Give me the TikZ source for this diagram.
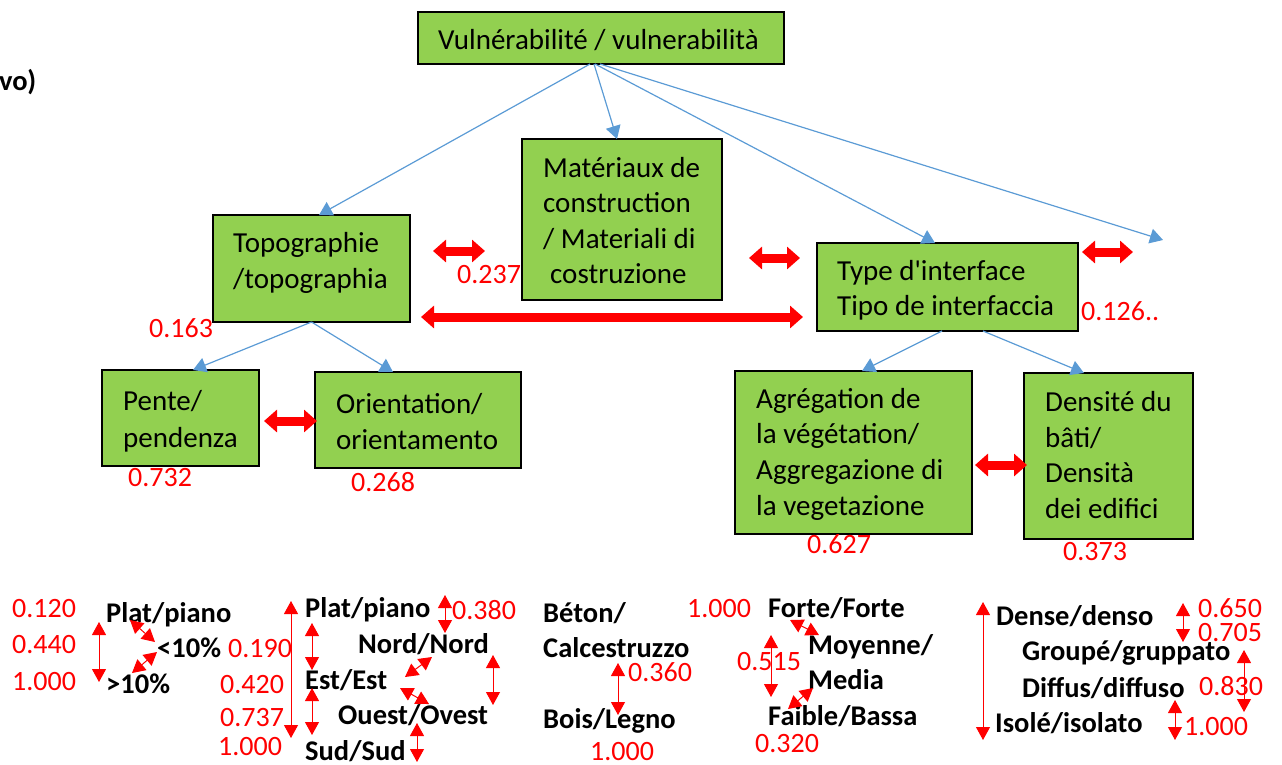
\documentclass[tikz,border=0pt]{standalone}
\usepackage{fontspec}
\setmainfont{Carlito}
\usetikzlibrary{arrows.meta}
\definecolor{boxgreen}{HTML}{92D050}
\definecolor{linkblue}{HTML}{5B9BD5}
\definecolor{numred}{HTML}{FF0000}
\begin{document}
\begin{tikzpicture}[x=1pt,y=-1pt,
  box/.style={draw=black, line width=1.3pt, fill=boxgreen, inner sep=0pt, outer sep=0pt},
  bt/.style={anchor=base west, inner sep=0pt, font=\fontsize{29}{35}\selectfont},
  num/.style={anchor=base west, inner sep=0pt, text=numred, font=\fontsize{28}{34}\selectfont},
  lab/.style={anchor=base west, inner sep=0pt, font=\bfseries\fontsize{28.5}{34}\selectfont},
  link/.style={draw=linkblue, line width=1.2pt, -{Triangle[length=13pt,width=15pt]}},
  bigdbl/.style={draw=numred, line width=9pt, {Triangle[length=13pt,width=22pt]}-{Triangle[length=13pt,width=22pt]}},
  thindbl/.style={draw=numred, line width=1pt, {Triangle[length=13pt,width=14pt]}-{Triangle[length=13pt,width=14pt]}},
  diagdbl/.style={draw=numred, line width=1pt, {Triangle[length=13pt,width=14pt]}-{Triangle[length=13pt,width=14pt]}},
]
\useasboundingbox (0,0) rectangle (1282,764);

% ---------- boxes ----------
\node[box, minimum width=366, minimum height=52] (vul) at (601,38) {};
\node[box, minimum width=200, minimum height=161] (mat) at (622,219.5) {};
\node[box, minimum width=197, minimum height=107] (topo) at (311.5,268.5) {};
\node[box, minimum width=261, minimum height=88] (type) at (947.5,287) {};
\node[box, minimum width=157, minimum height=96] (pente) at (180.5,418) {};
\node[box, minimum width=206, minimum height=96] (orient) at (418,420) {};
\node[box, minimum width=237, minimum height=163] (agr) at (853.5,452.5) {};
\node[box, minimum width=169, minimum height=166] (dens) at (1108.5,456) {};

% ---------- box texts ----------
\node[bt] (tvul) at (438,49) {Vulnérabilité / vulnerabilità};
\node[bt] (tmat1) at (543,177) {Matériaux de};
\node[bt] (tmat2) at (543,212) {construction};
\node[bt] (tmat3) at (543,248) {/ Materiali di};
\node[bt] (tmat4) at (550,283) {costruzione};
\node[bt] (ttopo1) at (233,252) {Topographie};
\node[bt] (ttopo2) at (233,288) {/topographia};
\node[bt] (ttype1) at (837,280) {Type d\textquotesingle interface};
\node[bt] (ttype2) at (837,315) {Tipo de interfaccia};
\node[bt] (tpente1) at (123,410) {Pente/};
\node[bt] (tpente2) at (123,447) {pendenza};
\node[bt] (tor1) at (336,413) {Orientation/};
\node[bt] (tor2) at (336,449) {orientamento};
\node[bt] (tagr1) at (756,408) {Agrégation de};
\node[bt] (tagr2) at (756,443) {la végétation/};
\node[bt] (tagr3) at (756,479) {Aggregazione di};
\node[bt] (tagr4) at (756,515) {la vegetazione};
\node[bt] (tdens1) at (1045,411) {Densité du};
\node[bt] (tdens2) at (1045,447) {bâti/};
\node[bt] (tdens3) at (1045,482) {Densità};
\node[bt] (tdens4) at (1045,518) {dei edifici};

\node[lab] (vo) at (-1,90) {vo)};

% ---------- blue links ----------
\coordinate (freeend) at (1163,240);
\draw[link] ([xshift=-11pt]vul.south) -- ([xshift=7.5pt]topo.north);
\draw[link] ([xshift=-7pt]vul.south) -- ([xshift=-5pt]mat.north);
\draw[link] ([xshift=-6pt]vul.south) -- ([xshift=-12.5pt]type.north);
\draw[link] ([xshift=-1pt]vul.south) -- (freeend);
\draw[link] (topo.south) -- ([xshift=12.5pt]pente.north);
\draw[link] (topo.south) -- ([xshift=-25pt]orient.north);
\draw[link] ([xshift=-5.5pt]type.south) -- ([xshift=8.5pt]agr.north);
\draw[link] ([xshift=35.5pt]type.south) -- ([xshift=-24.5pt]dens.north);

% ---------- red weight numbers ----------
\node[num] (w237) at (457,283) {0.237};
\node[num] (w163) at (149,337) {0.163};
\node[num] (w732) at (128,486) {0.732};
\node[num] (w268) at (351,491) {0.268};
\node[num] (w126) at (1081,320) {0.126..};
\node[num] (w627) at (807,553) {0.627};
\node[num] (w373) at (1063,560) {0.373};

% ---------- big red double arrows ----------
\coordinate (r1a) at (433,251); \coordinate (r1b) at (485,251);
\coordinate (r2a) at (421,317); \coordinate (r2b) at (803,317);
\coordinate (r3a) at (749,258); \coordinate (r3b) at (800,258);
\coordinate (r4a) at (1082,252); \coordinate (r4b) at (1133,252);
\coordinate (r5a) at (264,421); \coordinate (r5b) at (317,421);
\coordinate (r6a) at (975,465); \coordinate (r6b) at (1027,465);
\draw[bigdbl] (r1a) -- (r1b);
\draw[bigdbl] (r2a) -- (r2b);
\draw[bigdbl] (r3a) -- (r3b);
\draw[bigdbl] (r4a) -- (r4b);
\draw[bigdbl] (r5a) -- (r5b);
\draw[bigdbl] (r6a) -- (r6b);

% ---------- bottom: slope ----------
\node[num] (s1) at (12,617) {0.120};
\node[num] (s2) at (12,653) {0.440};
\node[num] (s3) at (12,690) {1.000};
\node[lab] (sl1) at (106,622) {Plat/piano};
\node[lab] (sl2) at (157,657) {<10\%};
\node[lab] (sl3) at (106,693) {>10\%};
\coordinate (sa1) at (99,622); \coordinate (sa2) at (99,682);
\coordinate (sb1) at (130,620); \coordinate (sb2) at (155,642);
\coordinate (sc1) at (157,652); \coordinate (sc2) at (132,673);
\draw[thindbl] (sa1) -- (sa2);
\draw[diagdbl] (sb1) -- (sb2);
\draw[diagdbl] (sc1) -- (sc2);

% ---------- bottom: orientation ----------
\node[num] (o1) at (228,657) {0.190};
\node[num] (o2) at (220,693) {0.420};
\node[num] (o3) at (220,726) {0.737};
\node[num] (o4) at (218,755) {1.000};
\node[num] (o5) at (452,619) {0.380};
\node[lab] (ol1) at (305,617) {Plat/piano};
\node[lab] (ol2) at (358,653) {Nord/Nord};
\node[lab] (ol3) at (305,689) {Est/Est};
\node[lab] (ol4) at (338,724) {Ouest/Ovest};
\node[lab] (ol5) at (305,760) {Sud/Sud};
\coordinate (oa1) at (291,601); \coordinate (oa2) at (291,738);
\coordinate (ob1) at (312,623); \coordinate (ob2) at (312,670);
\coordinate (oc1) at (312,688); \coordinate (oc2) at (312,735);
\coordinate (od1) at (445,595); \coordinate (od2) at (445,633);
\coordinate (oe1) at (432,657); \coordinate (oe2) at (405,677);
\coordinate (of1) at (400,688); \coordinate (of2) at (429,704);
\coordinate (og1) at (493,655); \coordinate (og2) at (493,705);
\coordinate (oh1) at (417,723); \coordinate (oh2) at (417,762);
\draw[thindbl] (oa1) -- (oa2);
\draw[thindbl] (ob1) -- (ob2);
\draw[thindbl] (oc1) -- (oc2);
\draw[thindbl] (od1) -- (od2);
\draw[diagdbl] (oe1) -- (oe2);
\draw[diagdbl] (of1) -- (of2);
\draw[thindbl] (og1) -- (og2);
\draw[thindbl] (oh1) -- (oh2);

% ---------- bottom: materials ----------
\node[lab] (ml1) at (543,622) {Béton/};
\node[lab] (ml2) at (543,657) {Calcestruzzo};
\node[lab] (ml3) at (543,728) {Bois/Legno};
\node[num] (m1) at (628,681) {0.360};
\node[num] (m2) at (590,760) {1.000};
\coordinate (ma1) at (618,663); \coordinate (ma2) at (618,715);
\draw[thindbl] (ma1) -- (ma2);

% ---------- bottom: aggregation ----------
\node[num] (g1) at (687,617) {1.000};
\node[num] (g2) at (737,670) {0.515};
\node[num] (g3) at (755,752) {0.320};
\node[lab] (gl1) at (768,617) {Forte/Forte};
\node[lab] (gl2) at (808,654) {Moyenne/};
\node[lab] (gl3) at (808,689) {Media};
\node[lab] (gl4) at (768,725) {Faible/Bassa};
\coordinate (ga1) at (790,620); \coordinate (ga2) at (819,635);
\coordinate (gb1) at (771,635); \coordinate (gb2) at (771,697);
\coordinate (gc1) at (813,688); \coordinate (gc2) at (788,709);
\draw[diagdbl] (ga1) -- (ga2);
\draw[thindbl] (gb1) -- (gb2);
\draw[diagdbl] (gc1) -- (gc2);

% ---------- bottom: density ----------
\node[lab] (dl1) at (996,625) {Dense/denso};
\node[lab] (dl2) at (1022,660) {Groupé/gruppato};
\node[lab] (dl3) at (1022,697) {Diffus/diffuso};
\node[lab] (dl4) at (995,732) {Isolé/isolato};
\node[num] (d1) at (1198,617) {0.650};
\node[num] (d2) at (1198,641) {0.705};
\node[num] (d3) at (1199,695) {0.830};
\node[num] (d4) at (1184,735) {1.000};
\coordinate (da1) at (983,602); \coordinate (da2) at (983,740);
\coordinate (db1) at (1183,603); \coordinate (db2) at (1183,642);
\coordinate (dc1) at (1244,650); \coordinate (dc2) at (1244,712);
\coordinate (dd1) at (1175,700); \coordinate (dd2) at (1175,740);
\draw[thindbl] (da1) -- (da2);
\draw[thindbl] (db1) -- (db2);
\draw[thindbl] (dc1) -- (dc2);
\draw[thindbl] (dd1) -- (dd2);
\end{tikzpicture}
\end{document}
